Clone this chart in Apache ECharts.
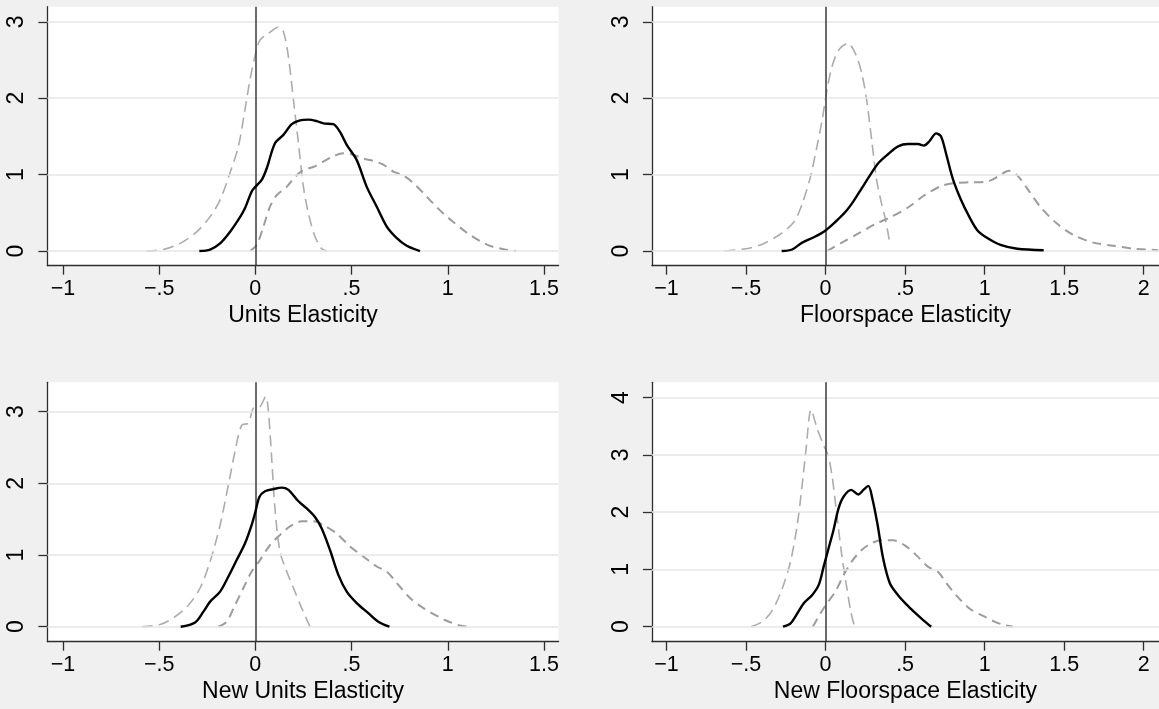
<!DOCTYPE html>
<html>
<head>
<meta charset="utf-8">
<script src="https://cdn.jsdelivr.net/npm/echarts@6/dist/echarts.min.js"></script>
<style>
html,body{margin:0;padding:0;background:#f0f0f0;}
#c{width:1159px;height:709px;}
</style>
</head>
<body>
<div id="c"></div>
<script>
// ---- tick labels ----
const xTicksLeft = [-1, -0.5, 0, 0.5, 1, 1.5];
const xTicksRight = [-1, -0.5, 0, 0.5, 1, 1.5, 2];
const yTicks3 = [0, 1, 2, 3];
const yTicks4 = [0, 1, 2, 3, 4];
const axisTitles = ['Units Elasticity', 'Floorspace Elasticity', 'New Units Elasticity', 'New Floorspace Elasticity'];

// ---- Units Elasticity ----
const unitsSolid = [[-0.291,0],[-0.235,0.02],[-0.183,0.10],[-0.132,0.25],[-0.088,0.41],[-0.054,0.56],[-0.019,0.78],[0,0.84],[0.033,0.93],[0.059,1.08],[0.102,1.41],[0.146,1.52],[0.189,1.66],[0.232,1.71],[0.276,1.72],[0.319,1.70],[0.354,1.67],[0.405,1.66],[0.44,1.56],[0.475,1.39],[0.527,1.19],[0.579,0.84],[0.631,0.58],[0.683,0.32],[0.735,0.17],[0.787,0.07],[0.856,0]];
const unitsTall = [[-0.568,0],[-0.478,0.02],[-0.391,0.10],[-0.305,0.25],[-0.235,0.45],[-0.183,0.67],[-0.132,1.02],[-0.088,1.37],[-0.054,1.85],[-0.028,2.24],[0,2.57],[0.024,2.76],[0.068,2.85],[0.12,2.93],[0.146,2.87],[0.172,2.54],[0.198,1.98],[0.224,1.41],[0.25,0.84],[0.276,0.49],[0.31,0.19],[0.345,0.03],[0.371,0]];
const unitsBroad = [[-0.028,0],[0.007,0.08],[0.042,0.32],[0.076,0.58],[0.111,0.73],[0.163,0.84],[0.206,0.97],[0.25,1.06],[0.301,1.10],[0.353,1.17],[0.405,1.24],[0.457,1.28],[0.509,1.26],[0.561,1.21],[0.613,1.18],[0.665,1.13],[0.717,1.04],[0.769,0.99],[0.821,0.89],[0.873,0.76],[0.925,0.62],[0.977,0.49],[1.029,0.38],[1.099,0.24],[1.168,0.13],[1.23,0.06],[1.307,0.015],[1.355,0]];

// ---- Floorspace Elasticity ----
const floorSolid = [[-0.276,0],[-0.21,0.02],[-0.147,0.11],[-0.074,0.18],[0,0.27],[0.061,0.38],[0.124,0.51],[0.175,0.65],[0.227,0.82],[0.279,0.99],[0.331,1.15],[0.394,1.27],[0.456,1.37],[0.518,1.40],[0.581,1.40],[0.618,1.38],[0.654,1.44],[0.695,1.54],[0.726,1.50],[0.757,1.28],[0.799,0.95],[0.851,0.67],[0.903,0.45],[0.955,0.27],[1.017,0.17],[1.1,0.08],[1.205,0.03],[1.371,0.01]];
const floorTall = [[-0.636,0],[-0.5,0.03],[-0.397,0.09],[-0.293,0.21],[-0.199,0.38],[-0.147,0.62],[-0.095,0.97],[-0.054,1.37],[-0.022,1.71],[0.009,2.11],[0.04,2.41],[0.082,2.63],[0.14,2.72],[0.186,2.59],[0.227,2.33],[0.258,1.98],[0.29,1.45],[0.321,0.93],[0.352,0.62],[0.377,0.41],[0.404,0.10]];
const floorBroad = [[0.009,0],[0.102,0.11],[0.206,0.23],[0.31,0.35],[0.414,0.45],[0.518,0.57],[0.622,0.73],[0.726,0.85],[0.81,0.89],[0.913,0.90],[1.017,0.91],[1.08,0.97],[1.153,1.05],[1.205,0.99],[1.267,0.82],[1.35,0.58],[1.454,0.36],[1.558,0.21],[1.683,0.11],[1.808,0.07],[1.933,0.03],[2.016,0.02],[2.09,0.01]];

// ---- New Units Elasticity ----
const newUnitsSolid = [[-0.388,0],[-0.313,0.06],[-0.27,0.21],[-0.235,0.35],[-0.183,0.49],[-0.14,0.70],[-0.097,0.93],[-0.054,1.16],[-0.019,1.42],[0,1.60],[0.021,1.81],[0.05,1.89],[0.094,1.92],[0.137,1.94],[0.172,1.91],[0.224,1.75],[0.267,1.65],[0.31,1.53],[0.345,1.37],[0.388,1.07],[0.432,0.72],[0.475,0.49],[0.527,0.33],[0.587,0.19],[0.639,0.07],[0.697,0]];
const newUnitsTall = [[-0.591,0],[-0.495,0.03],[-0.417,0.14],[-0.348,0.30],[-0.287,0.54],[-0.235,0.91],[-0.183,1.42],[-0.14,1.98],[-0.106,2.44],[-0.071,2.81],[-0.036,2.84],[-0.01,3.05],[0.024,3.07],[0.054,3.21],[0.068,3.00],[0.085,2.35],[0.102,1.65],[0.128,1.05],[0.163,0.77],[0.198,0.54],[0.241,0.26],[0.284,0]];
const newUnitsBroad = [[-0.192,0],[-0.149,0.07],[-0.106,0.30],[-0.062,0.54],[-0.019,0.77],[0.024,0.93],[0.076,1.14],[0.128,1.28],[0.18,1.40],[0.241,1.47],[0.301,1.47],[0.353,1.42],[0.423,1.30],[0.492,1.12],[0.561,0.98],[0.631,0.84],[0.683,0.77],[0.735,0.61],[0.804,0.40],[0.873,0.26],[0.951,0.14],[0.98,0.10],[1.057,0.02],[1.105,0]];

// ---- New Floorspace Elasticity ----
const newFloorSolid = [[-0.268,0],[-0.22,0.06],[-0.178,0.23],[-0.137,0.41],[-0.085,0.55],[-0.043,0.73],[-0.012,1.05],[0.019,1.37],[0.05,1.69],[0.082,2.07],[0.113,2.27],[0.161,2.39],[0.206,2.31],[0.238,2.39],[0.269,2.46],[0.294,2.24],[0.327,1.78],[0.362,1.19],[0.404,0.76],[0.456,0.55],[0.508,0.39],[0.56,0.25],[0.612,0.12],[0.664,0]];
const newFloorTall = [[-0.469,0],[-0.397,0.09],[-0.334,0.29],[-0.272,0.67],[-0.22,1.14],[-0.178,1.78],[-0.147,2.48],[-0.122,3.12],[-0.091,3.79],[-0.054,3.47],[-0.012,3.17],[0.015,3.0],[0.04,2.65],[0.071,1.95],[0.102,1.25],[0.134,0.67],[0.159,0.26],[0.182,0]];
const newFloorBroad = [[-0.08,0],[-0.033,0.23],[0.009,0.41],[0.061,0.61],[0.113,0.90],[0.165,1.14],[0.227,1.34],[0.29,1.46],[0.352,1.51],[0.425,1.51],[0.498,1.42],[0.57,1.25],[0.643,1.05],[0.706,0.96],[0.768,0.73],[0.83,0.52],[0.913,0.30],[0.997,0.18],[1.061,0.09],[1.12,0.03],[1.177,0]];

const FONT = '"Liberation Sans", Arial, Helvetica, sans-serif';
const AXIS_COLOR = '#2e2e2e';

function fmt(v) {
  if (v === 0) return '0';
  const a = Math.abs(v);
  let s = String(a);
  if (s.startsWith('0.')) s = s.slice(1);
  return (v < 0 ? '\u2212' : '') + s;
}

const panels = [
  {grid:{left:47.4, top:6.7, width:511.2, height:259}, x:[-1.0806,1.576], y:[-0.192,3.198], xt:xTicksLeft, yt:yTicks3, name:axisTitles[0], data:[unitsSolid, unitsTall, unitsBroad]},
  {grid:{left:651.9, top:6.7, width:511, height:259}, x:[-1.0917,2.096], y:[-0.192,3.198], xt:xTicksRight, yt:yTicks3, name:axisTitles[1], data:[floorSolid, floorTall, floorBroad]},
  {grid:{left:47.4, top:382.3, width:511.2, height:259.4}, x:[-1.0806,1.576], y:[-0.209,3.41], xt:xTicksLeft, yt:yTicks3, name:axisTitles[2], data:[newUnitsSolid, newUnitsTall, newUnitsBroad]},
  {grid:{left:651.9, top:382.3, width:511, height:259.4}, x:[-1.0917,2.096], y:[-0.262,4.269], xt:xTicksRight, yt:yTicks4, name:axisTitles[3], data:[newFloorSolid, newFloorTall, newFloorBroad]}
];

const grids = [], xAxes = [], yAxes = [], series = [];
panels.forEach((p, i) => {
  grids.push(Object.assign({containLabel:false, backgroundColor:'#ffffff', show:true, borderWidth:0}, p.grid));
  xAxes.push({
    type:'value', gridIndex:i, min:p.x[0], max:p.x[1],
    name:p.name, nameLocation:'middle', nameGap:50,
    nameTextStyle:{fontFamily:FONT, fontSize:23, color:'#000', verticalAlign:'middle'},
    axisLine:{show:true, onZero:false, lineStyle:{color:AXIS_COLOR, width:1.3}},
    axisTick:{show:true, customValues:p.xt, length:9, lineStyle:{color:AXIS_COLOR, width:1.3}},
    axisLabel:{customValues:p.xt, formatter:fmt, fontFamily:FONT, fontSize:21.5, color:'#000', margin:23.5, verticalAlign:'middle', align:'center'},
    splitLine:{show:false}
  });
  yAxes.push({
    type:'value', gridIndex:i, min:p.y[0], max:p.y[1], position:'left',
    axisLine:{show:true, onZero:false, lineStyle:{color:AXIS_COLOR, width:1.3}},
    axisTick:{show:true, customValues:p.yt, length:9, lineStyle:{color:AXIS_COLOR, width:1.3}},
    axisLabel:{customValues:p.yt, formatter:fmt, fontFamily:FONT, fontSize:23, color:'#000', rotate:90, margin:30.5, align:'center', verticalAlign:'middle'},
    splitLine:{show:false}
  });
  // gridlines
  series.push({
    type:'line', xAxisIndex:i, yAxisIndex:i, data:[], z:1, silent:true,
    markLine:{silent:true, symbol:['none','none'], label:{show:false}, animation:false,
      lineStyle:{color:'#e6e6e6', width:1.6, type:'solid'},
      emphasis:{disabled:true},
      data:p.yt.map(t => ({yAxis:t}))}
  });
  // zero reference line
  series.push({
    type:'line', xAxisIndex:i, yAxisIndex:i, data:[], z:2, silent:true,
    markLine:{silent:true, symbol:['none','none'], label:{show:false}, animation:false,
      lineStyle:{color:'#3a3a3a', width:1.5, type:'solid'},
      emphasis:{disabled:true},
      data:[{xAxis:0}]}
  });
  const styles = [
    {color:'#000000', width:2.4, type:'solid', z:5},
    {color:'#acacac', width:1.6, type:[11,6], z:3},
    {color:'#9c9c9c', width:2, type:[9,6], z:4}
  ];
  p.data.forEach((d, k) => {
    series.push({
      type:'line', xAxisIndex:i, yAxisIndex:i, data:d, showSymbol:false, smooth:0.3,
      silent:true, z:styles[k].z,
      lineStyle:{color:styles[k].color, width:styles[k].width, type:styles[k].type, cap:'butt'}
    });
  });
});

const chart = echarts.init(document.getElementById('c'), null, {renderer:'canvas'});
chart.setOption({
  animation:false,
  backgroundColor:'#f0f0f0',
  grid:grids, xAxis:xAxes, yAxis:yAxes, series:series
});
</script>
</body>
</html>
